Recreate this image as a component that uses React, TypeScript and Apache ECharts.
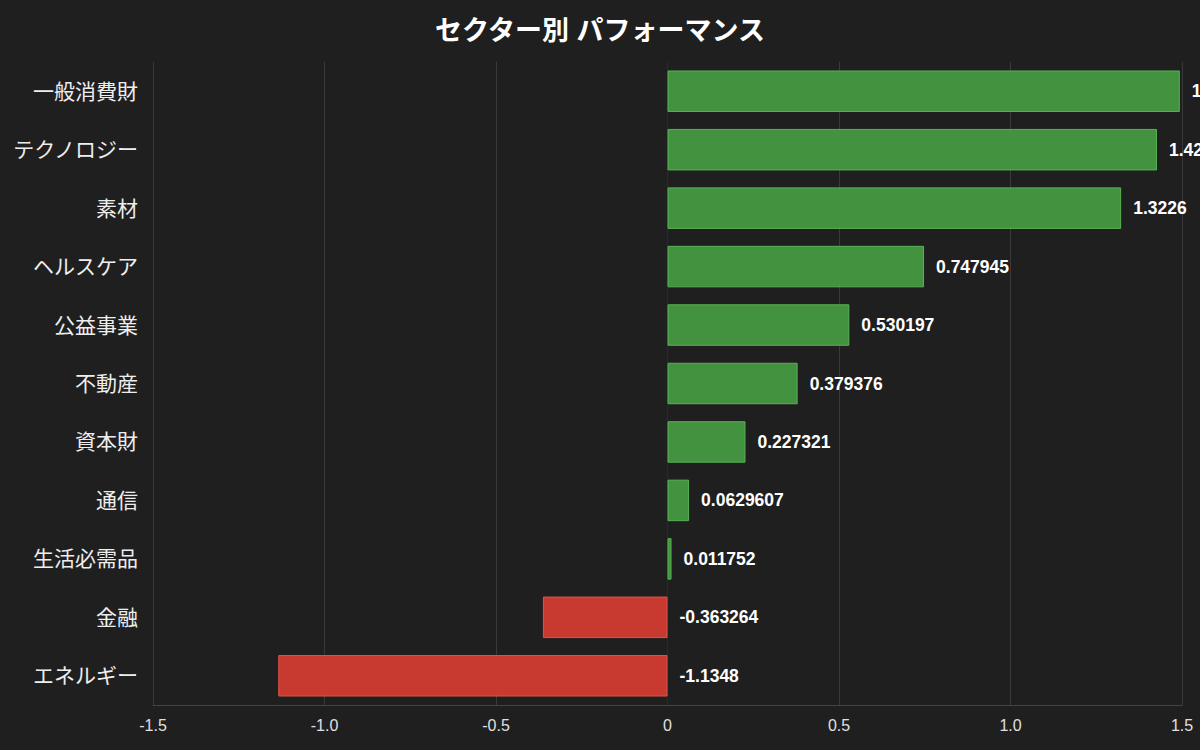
import React, { useEffect, useRef } from "react";
import * as echarts from "echarts";

const categories = [
  "一般消費財",
  "テクノロジー",
  "素材",
  "ヘルスケア",
  "公益事業",
  "不動産",
  "資本財",
  "通信",
  "生活必需品",
  "金融",
  "エネルギー",
];
const values = [
  1.4937, 1.4271, 1.3226, 0.747945, 0.530197, 0.379376, 0.227321, 0.0629607,
  0.011752, -0.363264, -1.1348,
];

const FONT = "'Liberation Sans', 'Noto Sans CJK JP', sans-serif";

export default function App() {
  const ref = useRef<HTMLDivElement>(null);
  useEffect(() => {
    document.body.style.margin = "0";
    document.body.style.background = "#1f1f1f";
    const chart = echarts.init(ref.current!, null, { renderer: "svg" });
    chart.setOption({
      animation: false,
      backgroundColor: "#1f1f1f",
      title: {
        text: "セクター別 パフォーマンス",
        left: "center",
        top: 12,
        textStyle: { color: "#ffffff", fontSize: 27, fontWeight: "bold", fontFamily: FONT },
      },
      grid: { left: 153, right: 18, top: 62, bottom: 45, containLabel: false },
      xAxis: {
        type: "value",
        min: -1.5,
        max: 1.5,
        interval: 0.5,
        axisLine: { show: true, lineStyle: { color: "#444444" } },
        axisTick: { show: false },
        splitLine: { show: true, lineStyle: { color: "#3a3a3a", width: 1 } },
        axisLabel: {
          color: "#e0e0e0",
          fontSize: 16,
          fontFamily: FONT,
          margin: 12,
          formatter: (v: number) => (v === 0 ? "0" : v.toFixed(1)),
        },
      },
      yAxis: {
        type: "category",
        data: categories,
        inverse: true,
        axisLine: { show: true, onZero: true, lineStyle: { color: "#2a2a2a" } },
        axisTick: { show: false },
        axisLabel: { color: "#eeeeee", fontSize: 21, fontFamily: FONT, margin: 15 },
      },
      series: [
        {
          type: "bar",
          barWidth: "71%",
          data: values.map((v) => ({
            value: v,
            itemStyle: {
              color: v >= 0 ? "rgba(69,151,66,0.96)" : "rgba(207,59,48,0.96)",
              borderColor: v >= 0 ? "#58b254" : "#e0534a",
              borderWidth: 1,
            },
          })),
          label: {
            show: true,
            position: "right",
            distance: 12,
            color: "#ffffff",
            fontSize: 17.5,
            fontWeight: "bold",
            fontFamily: FONT,
            formatter: (p: any) => String(p.value),
          },
        },
      ],
    });
    return () => chart.dispose();
  }, []);
  return <div ref={ref} style={{ position: "absolute", left: 0, top: 0, width: 1200, height: 750 }} />;
}
